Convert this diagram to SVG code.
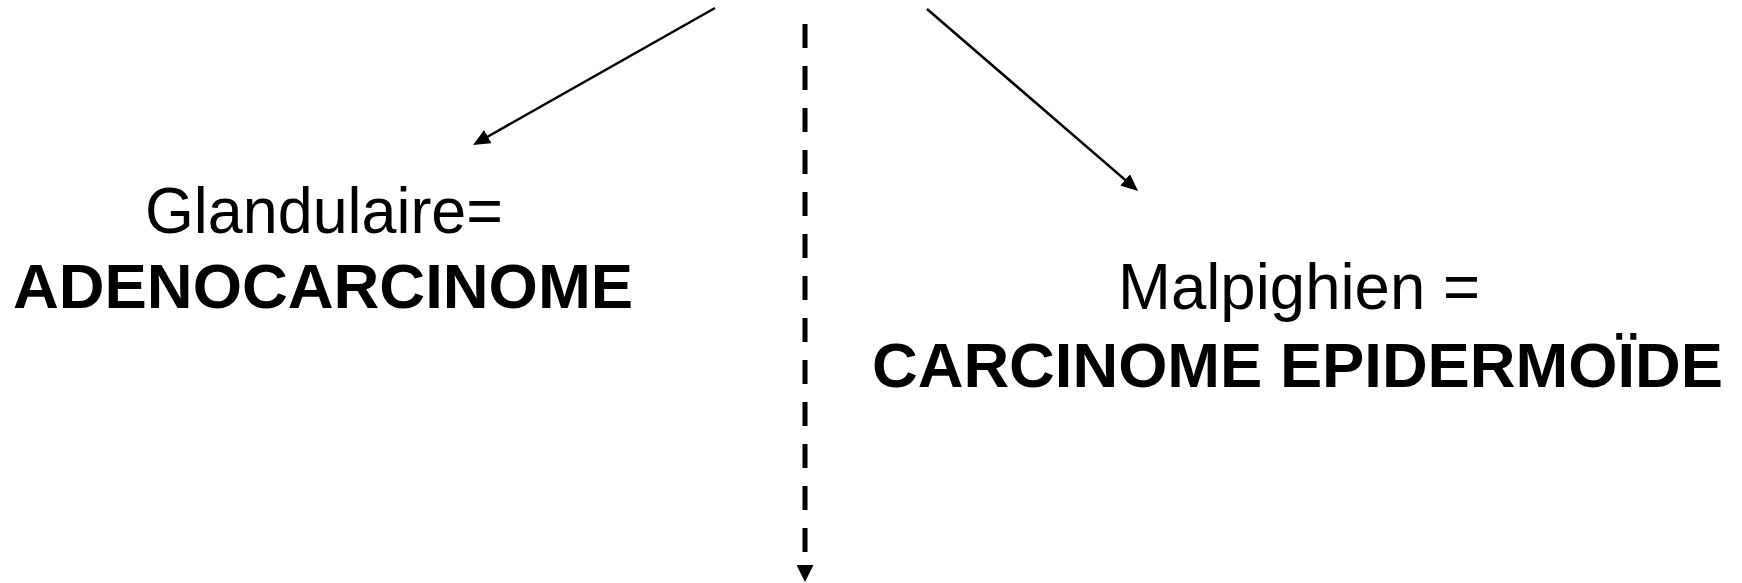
<svg xmlns="http://www.w3.org/2000/svg" width="1742" height="583" viewBox="0 0 1742 583">
<style>
.reg{font-family:"Liberation Sans",Arial,sans-serif;font-size:64px;fill:#000;text-anchor:middle}
.bold{font-family:"Liberation Sans",Arial,sans-serif;font-size:63px;font-weight:bold;fill:#000;text-anchor:middle}
.conn{stroke:#000;fill:none}
</style>
<defs>
<marker id="ah" markerUnits="userSpaceOnUse" markerWidth="17" markerHeight="15" refX="13" refY="7.5" orient="auto" viewBox="0 0 17 15">
<path d="M0,0 L17,7.5 L0,15 z" fill="#000"/>
</marker>
<marker id="ahd" markerUnits="userSpaceOnUse" markerWidth="17" markerHeight="17" refX="0" refY="8.5" orient="auto" viewBox="0 0 17 17">
<path d="M0,0 L17,8.5 L0,17 z" fill="#000"/>
</marker>
</defs>
<rect width="1742" height="583" fill="#fff"/>
<g id="connectors">
<line class="conn" x1="715" y1="8" x2="476.5" y2="143" stroke-width="2.5" marker-end="url(#ah)"/>
<line class="conn" x1="927" y1="9" x2="1135" y2="188.4" stroke-width="2.5" marker-end="url(#ah)"/>
<line class="conn" x1="805" y1="24" x2="805" y2="565" stroke-width="5" stroke-dasharray="24 18" marker-end="url(#ahd)"/>
</g>
<g id="node-glandulaire">
<text class="reg" x="324" y="233" textLength="358" lengthAdjust="spacingAndGlyphs">Glandulaire=</text>
<text class="bold" x="323" y="308" textLength="620" lengthAdjust="spacingAndGlyphs">ADENOCARCINOME</text>
</g>
<g id="node-malpighien">
<text class="reg" x="1299" y="309" textLength="362" lengthAdjust="spacingAndGlyphs">Malpighien =</text>
<text class="bold" x="1297.5" y="387" textLength="851" lengthAdjust="spacingAndGlyphs">CARCINOME EPIDERMOÏDE</text>
</g>
</svg>
